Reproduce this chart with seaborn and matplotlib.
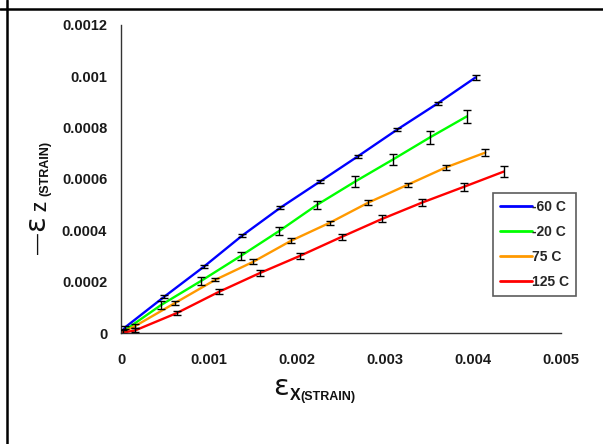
import matplotlib
matplotlib.use("Agg")
import matplotlib.pyplot as plt
from matplotlib.lines import Line2D
import pandas as pd
import seaborn as sns

# series: x strain, z strain and error bar half-heights
labels = ['-60 C', '-20 C', '75 C', '125 C']
colors = ['#0000FF', '#00FF00', '#FF9900', '#FF0000']

x_m60 = [0.00005, 0.00049, 0.00094, 0.001375, 0.00181, 0.00226, 0.00269, 0.00314, 0.0036, 0.00403]
y_m60 = [0.000023, 0.000141, 0.000258, 0.000379, 0.000488, 0.00059, 0.000688, 0.000793, 0.000895, 0.000996]
e_m60 = [0.000006, 0.000006, 0.000005, 0.000005, 0.000005, 0.000005, 0.000005, 0.000005, 0.000005, 0.00001]

x_m20 = [0.00002, 0.000455, 0.00091, 0.001364, 0.0018, 0.00223, 0.00266, 0.00309, 0.00351, 0.00393]
y_m20 = [0.000005, 0.000109, 0.000203, 0.000301, 0.000398, 0.0005, 0.00059, 0.000676, 0.000762, 0.000844]
e_m20 = [0.000008, 0.000015, 0.000016, 0.000016, 0.000016, 0.000016, 0.00002, 0.00002, 0.000024, 0.000026]

x_75 = [0.00016, 0.000614, 0.00107, 0.0015, 0.00193, 0.002375, 0.00281, 0.00326, 0.00369, 0.00414]
y_75 = [0.000027, 0.000117, 0.000207, 0.000277, 0.000359, 0.00043, 0.000508, 0.000578, 0.000645, 0.000703]
e_75 = [0.000008, 0.000008, 0.000006, 0.00001, 0.00001, 0.000008, 0.00001, 0.000008, 0.000008, 0.000014]

x_125 = [0.00016, 0.000636, 0.00111, 0.00158, 0.00203, 0.00251, 0.00297, 0.00342, 0.0039, 0.00435]
y_125 = [0.00001, 0.000078, 0.00016, 0.000234, 0.0003, 0.000375, 0.000445, 0.000508, 0.00057, 0.000629]
e_125 = [0.000008, 0.000008, 0.00001, 0.000012, 0.00001, 0.000012, 0.000014, 0.000014, 0.000016, 0.00002]

x_ticks = [0, 0.001, 0.002, 0.003, 0.004, 0.005]
x_tick_labels = ['0', '0.001', '0.002', '0.003', '0.004', '0.005']
y_ticks = [0, 0.0002, 0.0004, 0.0006, 0.0008, 0.001, 0.0012]
y_tick_labels = ['0', '0.0002', '0.0004', '0.0006', '0.0008', '0.001', '0.0012']

series = [(x_m60, y_m60, e_m60), (x_m20, y_m20, e_m20), (x_75, y_75, e_75), (x_125, y_125, e_125)]

rows = []
for lab, (xs, ys, es) in zip(labels, series):
    # every curve starts at the origin
    rows.append({'ex': 0.0, 'ez': 0.0, 'temp': lab})
    for xv, yv in zip(xs, ys):
        rows.append({'ex': xv, 'ez': yv, 'temp': lab})
df = pd.DataFrame(rows)

sns.set_style("white")
plt.rcParams['font.family'] = ['Liberation Sans', 'DejaVu Sans']

fig = plt.figure(figsize=(6.03, 4.44), dpi=100)
ax = fig.add_axes([0.2007, 0.25, 0.7297, 0.6937])

sns.lineplot(data=df, x='ex', y='ez', hue='temp', hue_order=labels,
             palette=dict(zip(labels, colors)), sort=False, estimator=None,
             linewidth=1.7, ax=ax)

for xs, ys, es in series:
    ax.errorbar(xs, ys, yerr=es, fmt='none', ecolor='black', elinewidth=1.0,
                capsize=2.6, capthick=1.0, zorder=4)

ax.set_xlim(0, 0.005)
ax.set_ylim(0, 0.0012)
ax.set_xticks(x_ticks)
ax.set_xticklabels(x_tick_labels)
ax.set_yticks(y_ticks)
ax.set_yticklabels(y_tick_labels)
ax.set_xlabel('')
ax.set_ylabel('')

for side in ['top', 'right']:
    ax.spines[side].set_visible(False)
for side in ['left', 'bottom']:
    ax.spines[side].set_color('#333333')
    ax.spines[side].set_linewidth(1.0)
ax.tick_params(axis='both', direction='out', length=4.5, width=1.0, color='#333333',
               labelsize=10.5, labelcolor='#1a1a1a')
ax.tick_params(axis='y', pad=5.5)
ax.tick_params(axis='x', pad=10)
for t in ax.get_xticklabels() + ax.get_yticklabels():
    t.set_fontweight('bold')

handles = [Line2D([0], [0], color=c, lw=2) for c in colors]
leg = ax.legend(handles, labels, loc='upper left', bbox_to_anchor=(0.845, 0.455),
                borderaxespad=0, frameon=True, fancybox=False, handlelength=2.3,
                handletextpad=0.05, labelspacing=0.8, borderpad=0.5,
                prop={'weight': 'bold', 'size': 10})
leg.get_frame().set_edgecolor('#333333')
leg.get_frame().set_linewidth(1.2)

W, H = 603.0, 444.0

# x axis label: epsilon with subscript
fig.text(273 / W, 1 - 395 / H, 'ε', fontsize=21, family='DejaVu Sans', ha='left', va='baseline', color='#111111')
fig.text(290 / W, 1 - 400 / H, 'X', fontsize=11.5, fontweight='bold', ha='left', va='baseline', color='#111111')
fig.text(300 / W, 1 - 400 / H, '(STRAIN)', fontsize=9, fontweight='bold', ha='left', va='baseline', color='#111111')

# y axis label: minus epsilon z, rotated
fig.text(38 / W, 1 - 244 / H, '—', fontsize=15, rotation=90, ha='center', va='center', color='#111111')
fig.text(36 / W, 1 - 223 / H, 'ε', fontsize=21, family='DejaVu Sans', rotation=90, ha='center', va='center', color='#111111')
fig.text(42 / W, 1 - 206 / H, 'Z', fontsize=11.5, fontweight='bold', rotation=90, ha='center', va='center', color='#111111')
fig.text(45.5 / W, 1 - 168 / H, '(STRAIN)', fontsize=9, fontweight='bold', rotation=90, ha='center', va='center', color='#111111')

# cell border lines around the figure
fig.add_artist(Line2D([7 / W, 7 / W], [0, 1], transform=fig.transFigure, color='black', lw=1.8))
fig.add_artist(Line2D([0, 1], [1 - 9 / H, 1 - 9 / H], transform=fig.transFigure, color='black', lw=1.8))

fig.savefig('out.png', dpi=100)
